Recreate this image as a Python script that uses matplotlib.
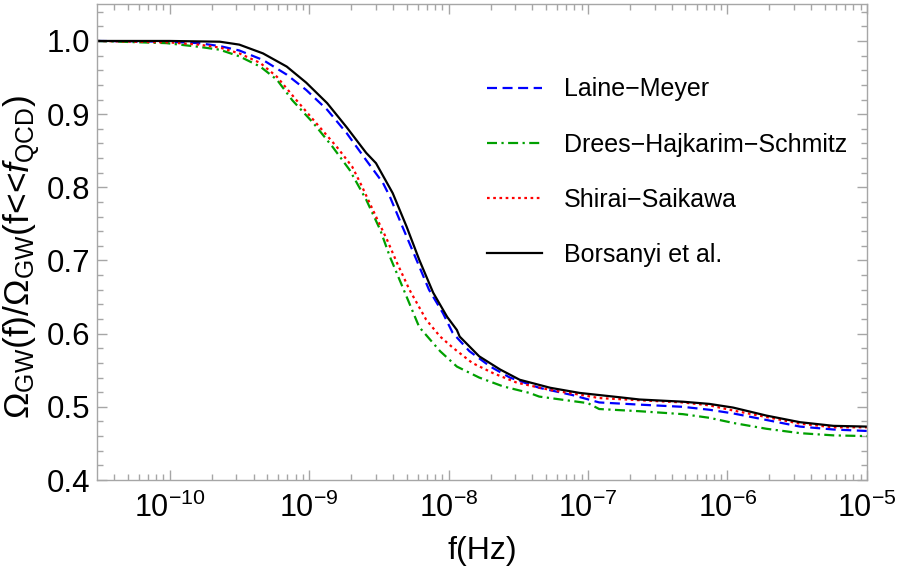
import numpy as np
import matplotlib
matplotlib.use("Agg")
import matplotlib.pyplot as plt
from matplotlib.ticker import LogLocator, MultipleLocator, NullFormatter

plt.rcParams['font.family'] = ['Liberation Sans', 'DejaVu Sans']
plt.rcParams['mathtext.fontset'] = 'custom'
plt.rcParams['mathtext.rm'] = 'Liberation Sans'
plt.rcParams['mathtext.it'] = 'Liberation Sans:italic'

# log10(f/Hz) and Omega ratio, one pair of lists per curve
lm_logf = [-10.52, -10.0, -9.79, -9.64, -9.50, -9.33, -9.16, -9.02, -8.87, -8.73, -8.59, -8.47,
           -8.42, -8.33, -8.23, -8.14, -8.04, -7.97, -7.85, -7.70, -7.56, -7.35, -7.11,
           -6.92, -6.63, -6.32, -6.13, -5.96, -5.72, -5.48, -5.24, -5.0]
lm_omega = [1.0, 0.999, 0.997, 0.993, 0.987, 0.974, 0.954, 0.933, 0.906, 0.874, 0.837, 0.806,
            0.787, 0.746, 0.701, 0.660, 0.628, 0.601, 0.576, 0.555, 0.540, 0.526, 0.516,
            0.506, 0.503, 0.500, 0.496, 0.491, 0.482, 0.473, 0.469, 0.467]

dhs_logf = [-10.52, -10.02, -9.79, -9.64, -9.50, -9.35, -9.23, -9.12, -8.97, -8.83, -8.71,
            -8.59, -8.49, -8.42, -8.33, -8.21, -8.06, -7.94, -7.78, -7.61, -7.42, -7.35,
            -7.0, -6.92, -6.63, -6.32, -6.13, -5.96, -5.72, -5.48, -5.24, -5.0]
dhs_omega = [1.0, 0.997, 0.992, 0.988, 0.979, 0.965, 0.947, 0.919, 0.888, 0.855, 0.824,
             0.783, 0.742, 0.705, 0.664, 0.609, 0.576, 0.555, 0.540, 0.528, 0.519, 0.514,
             0.505, 0.497, 0.494, 0.490, 0.485, 0.478, 0.470, 0.464, 0.461, 0.460]

ss_logf = [-10.52, -10.0, -9.79, -9.64, -9.50, -9.35, -9.23, -9.09, -8.95, -8.80, -8.69, -8.62,
           -8.52, -8.44, -8.37, -8.28, -8.16, -8.06, -7.97, -7.83, -7.68, -7.51, -7.27, -7.04,
           -6.92, -6.63, -6.32, -6.13, -5.96, -5.72, -5.48, -5.24, -5.0]
ss_omega = [1.0, 0.998, 0.995, 0.991, 0.983, 0.970, 0.951, 0.919, 0.888, 0.855, 0.828, 0.801,
            0.760, 0.728, 0.697, 0.660, 0.619, 0.596, 0.581, 0.560, 0.546, 0.533, 0.523, 0.516,
            0.512, 0.509, 0.506, 0.502, 0.495, 0.486, 0.477, 0.472, 0.472]

bors_logf = [-10.52, -10.0, -9.64, -9.50, -9.33, -9.16, -9.02, -8.87, -8.73, -8.59, -8.52,
             -8.40, -8.30, -8.21, -8.11, -8.01, -7.94, -7.92, -7.78, -7.63, -7.49, -7.27,
             -7.06, -6.77, -6.63, -6.32, -6.13, -5.96, -5.72, -5.48, -5.24, -5.0]
bors_omega = [1.0, 1.0, 0.999, 0.995, 0.983, 0.965, 0.943, 0.915, 0.882, 0.847, 0.833,
              0.792, 0.746, 0.701, 0.656, 0.623, 0.605, 0.596, 0.569, 0.551, 0.537, 0.526,
              0.519, 0.513, 0.510, 0.507, 0.504, 0.499, 0.488, 0.479, 0.474, 0.473]

x_major = [1e-10, 1e-9, 1e-8, 1e-7, 1e-6, 1e-5]
x_labels = [r'$10^{-10}$', r'$10^{-9}$', r'$10^{-8}$', r'$10^{-7}$', r'$10^{-6}$', r'$10^{-5}$']
y_major = [0.4, 0.5, 0.6, 0.7, 0.8, 0.9, 1.0]
y_labels = ['0.4', '0.5', '0.6', '0.7', '0.8', '0.9', '1.0']

fig = plt.figure(figsize=(9, 5.73), dpi=100)
ax = fig.add_axes([0.1078, 0.1623, 0.8555, 0.8307])

ax.plot(10**np.array(lm_logf), lm_omega, color='#0000ff', lw=1.6, ls=(0, (4.5, 2.5)),
        label='Laine\u2212Meyer')
ax.plot(10**np.array(dhs_logf), dhs_omega, color='#00a000', lw=1.6, ls=(0, (4.5, 2, 1, 2)),
        label='Drees\u2212Hajkarim\u2212Schmitz')
ax.plot(10**np.array(ss_logf), ss_omega, color='#ff0000', lw=1.6, ls=(0, (1.2, 1.6)),
        label='Shirai\u2212Saikawa')
ax.plot(10**np.array(bors_logf), bors_omega, color='black', lw=1.6, label='Borsanyi et al.')

ax.set_xscale('log')
ax.set_xlim(10**-10.52, 1e-5)
ax.set_ylim(0.4, 1.0505)
ax.set_xticks(x_major)
ax.set_xticklabels(x_labels)
ax.xaxis.set_minor_locator(LogLocator(base=10, subs=np.arange(2, 10), numticks=20))
ax.xaxis.set_minor_formatter(NullFormatter())
ax.set_yticks(y_major)
ax.set_yticklabels(y_labels)
ax.yaxis.set_minor_locator(MultipleLocator(0.02))

gray = '#a6a6a6'
for s in ax.spines.values():
    s.set_color(gray)
    s.set_linewidth(1.0)
ax.tick_params(which='both', direction='in', top=True, right=True, color=gray, width=1.0)
ax.tick_params(which='major', length=7)
ax.tick_params(which='minor', length=4)
ax.tick_params(axis='x', labelsize=22, pad=9)
ax.tick_params(axis='y', labelsize=22.5, pad=5)

ax.set_xlabel('f(Hz)', fontsize=23, labelpad=9)
ax.set_ylabel(r'$\Omega_{\rm GW}$(f)/$\Omega_{\rm GW}$(f<<$f_{\rm QCD}$)', fontsize=25.5)
ax.yaxis.set_label_coords(-0.071, 0.468)

ax.legend(loc='upper left', bbox_to_anchor=(0.477, 0.893), frameon=False, fontsize=18,
          handlelength=2.2, handletextpad=0.9, labelspacing=1.25)

fig.savefig('out.png', dpi=100)
